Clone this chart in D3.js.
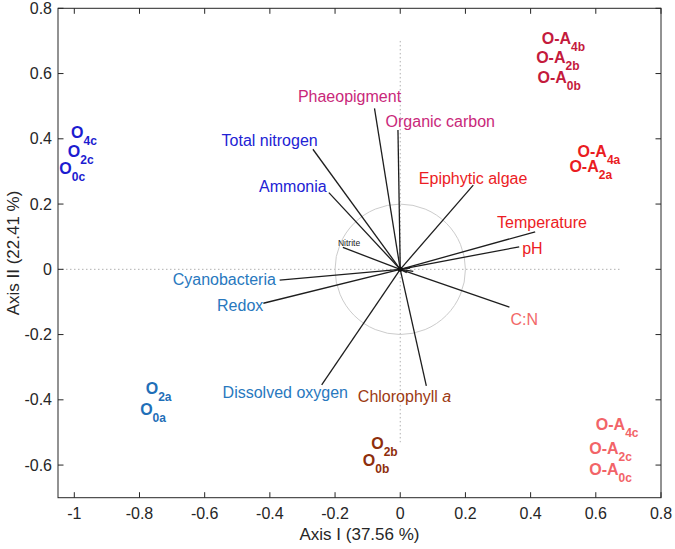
<!DOCTYPE html>
<html>
<head>
<meta charset="utf-8">
<script src="https://cdn.jsdelivr.net/npm/d3@7/dist/d3.min.js"></script>
<style>
  html, body { margin: 0; padding: 0; background: #fff; }
  svg { display: block; font-family: "Liberation Sans", Arial, Helvetica, sans-serif; }
</style>
</head>
<body>
<svg id="chart" width="675" height="549"></svg>
<script>
// ---- data ----
const xTicks = [-1, -0.8, -0.6, -0.4, -0.2, 0, 0.2, 0.4, 0.6, 0.8];
const xTickLabels = ["-1", "-0.8", "-0.6", "-0.4", "-0.2", "0", "0.2", "0.4", "0.6", "0.8"];
const yTicks = [-0.6, -0.4, -0.2, 0, 0.2, 0.4, 0.6, 0.8];
const yTickLabels = ["-0.6", "-0.4", "-0.2", "0", "0.2", "0.4", "0.6", "0.8"];

// environmental vectors: name, end x, end y, label x, label y (data units), group
const vecNames  = ["Phaeopigment", "Organic carbon", "Total nitrogen", "Ammonia", "Nitrite",
                   "Epiphytic algae", "Temperature", "pH", "C:N", "Chlorophyll a",
                   "Dissolved oxygen", "Redox", "Cyanobacteria"];
const vecX      = [-0.079, -0.007, -0.268, -0.219, -0.176, 0.224, 0.414, 0.365, 0.335, 0.080, -0.241, -0.420, -0.370];
const vecY      = [ 0.493,  0.427,  0.368,  0.235,  0.067, 0.258, 0.115, 0.069, -0.116, -0.357, -0.354, -0.104, -0.033];
const vecLabelX = [-0.314, -0.045, -0.548, -0.433, -0.191, 0.057, 0.297, 0.374, 0.338, -0.130, -0.545, -0.562, -0.698];
const vecLabelY = [ 0.513,  0.437,  0.379,  0.238,  0.071, 0.263, 0.126, 0.047, -0.171, -0.406, -0.395, -0.127, -0.048];
const vecGroup  = ["mag", "mag", "blue", "blue", "black", "red", "red", "red", "salmon", "brown", "steel", "steel", "steel"];

// minor (very short) vectors near the origin
const minorX = [0.030, 0.040, 0.020];
const minorY = [0.004, -0.006, -0.010];

// sample scores: base, subscript, x (left), y (centre), group
const sampleBase = ["O", "O", "O", "O", "O", "O", "O",
                    "O-A", "O-A", "O-A", "O-A", "O-A", "O-A", "O-A", "O-A"];
const sampleSub  = ["4c", "2c", "0c", "2a", "0a", "2b", "0b",
                    "4b", "2b", "0b", "4a", "2a", "4c", "2c", "0c"];
const sampleX    = [-1.010, -1.020, -1.046, -0.781, -0.798, -0.089, -0.115,
                    0.434, 0.417, 0.421, 0.544, 0.519, 0.600, 0.580, 0.580];
const sampleY    = [0.421, 0.361, 0.311, -0.364, -0.429, -0.533, -0.586,
                    0.709, 0.651, 0.588, 0.363, 0.317, -0.474, -0.548, -0.613];
const sampleGroup = ["Oc", "Oc", "Oc", "Oa", "Oa", "Ob", "Ob",
                     "OAb", "OAb", "OAb", "OAa", "OAa", "OAc", "OAc", "OAc"];

const xTitle = "Axis I (37.56 %)";
const yTitle = "Axis II (22.41 %)";

// ---- styles ----
const colors = {
  mag: "#c9287a", blue: "#2222d4", black: "#222222", red: "#ec1c24", salmon: "#f26868",
  brown: "#9c3a12", steel: "#2878be",
  Oc: "#1c1cd0", Oa: "#1f6fb8", Ob: "#8e2e0c", OAb: "#c41a3c", OAa: "#ea1c22", OAc: "#f26468"
};

const svg = d3.select("#chart");
const L = 58, R = 661, T = 8.3, B = 497.7;
const x = d3.scaleLinear().domain([-1.05, 0.8]).range([L, R]);
const y = d3.scaleLinear().domain([-0.7, 0.8]).range([B, T]);

// zero lines (dotted)
svg.append("line").attr("x1", x(-1.05)).attr("x2", x(0.68)).attr("y1", y(0)).attr("y2", y(0))
  .attr("stroke", "#b0b0b0").attr("stroke-width", 1).attr("stroke-dasharray", "1.5,2.5");
svg.append("line").attr("x1", x(0)).attr("x2", x(0)).attr("y1", y(0.70)).attr("y2", y(-0.53))
  .attr("stroke", "#b0b0b0").attr("stroke-width", 1).attr("stroke-dasharray", "1.5,2.5");

// circle of equilibrium contribution
svg.append("circle").attr("cx", x(0)).attr("cy", y(0)).attr("r", x(0.2) - x(0))
  .attr("fill", "none").attr("stroke", "#cccccc").attr("stroke-width", 1);

// vectors
const vg = svg.append("g");
vecNames.forEach((n, i) => {
  vg.append("line").attr("x1", x(0)).attr("y1", y(0)).attr("x2", x(vecX[i])).attr("y2", y(vecY[i]))
    .attr("stroke", "#1e1e1e").attr("stroke-width", 1.3);
});
minorX.forEach((v, i) => {
  vg.append("line").attr("x1", x(0)).attr("y1", y(0)).attr("x2", x(v)).attr("y2", y(minorY[i]))
    .attr("stroke", "#1e1e1e").attr("stroke-width", 1.3);
});
svg.append("circle").attr("cx", x(0)).attr("cy", y(0)).attr("r", 2.5).attr("fill", "#111");

// vector labels
vecNames.forEach((n, i) => {
  const isSmall = n === "Nitrite";
  const t = vg.append("text").attr("x", x(vecLabelX[i])).attr("y", y(vecLabelY[i]))
    .attr("font-size", isSmall ? 8.5 : 16).attr("fill", colors[vecGroup[i]]);
  if (n === "Chlorophyll a") {
    t.append("tspan").text("Chlorophyll ");
    t.append("tspan").attr("font-style", "italic").text("a");
  } else {
    t.text(n);
  }
});

// samples
sampleBase.forEach((b, i) => {
  const t = svg.append("text").attr("x", x(sampleX[i])).attr("y", y(sampleY[i]) + 5.8)
    .attr("font-weight", "bold").attr("font-size", 16).attr("fill", colors[sampleGroup[i]]);
  t.append("tspan").text(b);
  t.append("tspan").attr("font-size", 12).attr("dy", 7).text(sampleSub[i]);
});

// frame
svg.append("rect").attr("x", L).attr("y", T).attr("width", R - L).attr("height", B - T)
  .attr("fill", "none").attr("stroke", "#262626").attr("stroke-width", 1);

// ticks (inward on all sides)
const tk = 5.5;
const ax = svg.append("g").attr("stroke", "#262626").attr("stroke-width", 1);
xTicks.forEach(v => {
  ax.append("line").attr("x1", x(v)).attr("x2", x(v)).attr("y1", B).attr("y2", B - tk);
  ax.append("line").attr("x1", x(v)).attr("x2", x(v)).attr("y1", T).attr("y2", T + tk);
});
yTicks.forEach(v => {
  ax.append("line").attr("x1", L).attr("x2", L + tk).attr("y1", y(v)).attr("y2", y(v));
  ax.append("line").attr("x1", R).attr("x2", R - tk).attr("y1", y(v)).attr("y2", y(v));
});

// tick labels
xTicks.forEach((v, i) => {
  svg.append("text").attr("x", x(v)).attr("y", B + 21).attr("text-anchor", "middle")
    .attr("font-size", 16).attr("fill", "#262626").text(xTickLabels[i]);
});
yTicks.forEach((v, i) => {
  svg.append("text").attr("x", L - 6).attr("y", y(v) + 5.5).attr("text-anchor", "end")
    .attr("font-size", 16).attr("fill", "#262626").text(yTickLabels[i]);
});

// axis titles
svg.append("text").attr("x", (L + R) / 2).attr("y", 540).attr("text-anchor", "middle")
  .attr("font-size", 17).attr("fill", "#262626").text(xTitle);
svg.append("text").attr("transform", `translate(19, ${(T + B) / 2}) rotate(-90)`)
  .attr("text-anchor", "middle").attr("font-size", 17).attr("fill", "#262626").text(yTitle);
</script>
</body>
</html>
